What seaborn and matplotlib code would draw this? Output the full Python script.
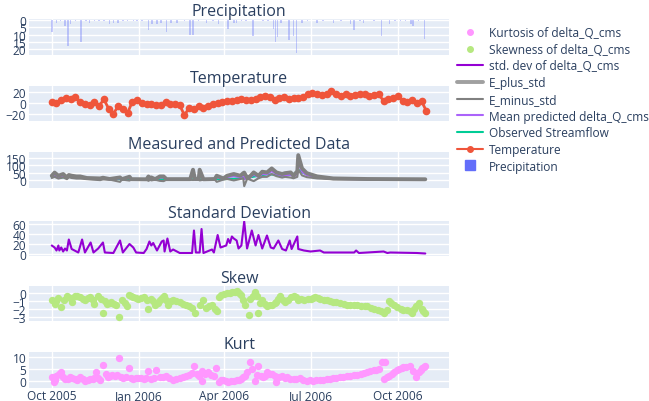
import matplotlib
matplotlib.use("Agg")
import matplotlib.pyplot as plt
import matplotlib.dates as mdates
from matplotlib.lines import Line2D
import pandas as pd
import seaborn as sns

START = pd.Timestamp("2005-10-01")

# precipitation (day offset from START, mm)
precip_day = [0, 5, 9, 14, 17, 20, 25, 31, 36, 40, 45, 50, 55, 61, 65, 70, 75, 80,
              86, 90, 95, 102, 106, 111, 115, 121, 126, 132, 140, 146, 149, 155,
              163, 170, 176, 186, 192, 195, 200, 205, 212, 223, 228, 234, 236, 238,
              242, 250, 255, 258, 264, 270, 280, 286, 297, 305, 315, 319, 325, 329,
              340, 348, 356, 362, 368, 373, 379, 381, 387, 393]
precip_val = [8, 2, 1, 4, 18, 3, 1, 15, 1, 2, 1, 1, 1, 3, 2, 2, 1, 1,
              1, 1, 1, 7, 3, 3, 2, 8, 2, 2, 1, 10, 10, 1,
              2, 1, 3, 6, 2, 2, 1, 1, 11, 1, 1, 6, 15, 12,
              2, 14, 11, 23, 2, 1, 2, 1, 2, 1, 3, 7, 1, 2,
              1, 11, 3, 1, 1, 1, 3, 4, 1, 13]

# temperature, every 5 days
temperature = [3, 1, 5, 9, 7, 11, 3, -1, -3, 2, -5, 7, -10, -19, -6, -10, -18, 3,
               5, 0, -1, -1, -4, -3, 3, -2, -1, -4, -22, -8, -11, -5, -9, -6, -2,
               0, 2, 4, 4, 5, 7, 5, 6, 8, 11, 14, 12, 5, 9, 11, 8, 10, 9, 11, 16,
               18, 17, 15, 17, 22, 16, 13, 17, 14, 15, 16, 17, 13, 15, 16, 4, 7,
               10, 13, 4, 2, 6, 1, 4, -14]

# observed streamflow
obs_day = [0, 5, 10, 15, 20, 25, 30, 40, 50, 60, 80, 100, 120, 150, 170, 185, 195,
           205, 212, 220, 228, 235, 242, 250, 255, 258, 261, 265, 270, 278, 290,
           305, 330, 360, 394]
obs_val = [18, 25, 15, 20, 22, 16, 14, 10, 7, 5, 3, 3, 3, 3, 3, 5, 8,
           12, 20, 30, 38, 35, 28, 32, 38, 55, 66, 48, 35, 24, 13,
           7, 4, 3, 2]

# ensemble statistics, shared days
ens_day = [0, 3, 7, 12, 16, 18, 21, 26, 30, 37, 51, 54, 61, 72, 74, 82, 84, 100,
           102, 104, 105, 109, 114, 118, 121, 146, 149, 151, 155, 156, 160, 172,
           174, 181, 185, 192, 199, 202, 203, 206, 208, 213, 218, 222, 227, 232,
           237, 243, 246, 252, 255, 259, 260, 264, 269, 280, 297, 333, 394]
mean_pred = [20, 35, 18, 28, 10, 25, 20, 15, 15, 8, 5, 8, 3, 10, 2, 14, 2, 1,
             15, 2, 10, 2, 15, 15, 2, 2, 45, 2, 2, 45, 1, 3,
             18, 5, 18, 25, 18, 30, 5, 8, 10, 35, 20, 40, 38, 60,
             38, 28, 32, 35, 20, 40, 120, 55, 32, 16, 6, 3, 2]
e_plus = [28, 50, 28, 40, 16, 33, 28, 23, 23, 12, 9, 14, 5, 16, 4, 21, 4, 3,
          23, 4, 16, 4, 23, 23, 4, 4, 70, 5, 5, 70, 3, 5,
          28, 9, 28, 40, 28, 46, 50, 14, 16, 51, 28, 56, 51, 79,
          51, 40, 46, 51, 28, 60, 172, 79, 46, 23, 9, 5, 3]
e_minus = [12, 20, 8, 16, 4, 17, 12, 8, 8, 4, -3, 2, 1, -15, 1, -6, 1, 0,
           -8, 0, -5, 0, -8, -10, 0, 0, -2, 0, 0, -5, 0, 1,
           -15, 1, 5, -5, 5, 10, -45, 5, 3, -10, 10, 20, 20, 40,
           25, 15, 20, 15, 10, 20, 70, 30, 18, 9, 3, 1, 1]

# std. dev of delta_Q_cms
std_day = [0, 3, 5, 7, 8, 10, 12, 14, 16, 18, 21, 24, 28, 32, 35, 41, 44, 49, 54,
           56, 65, 72, 75, 82, 86, 89, 97, 100, 103, 105, 107, 111, 116, 118, 119,
           122, 125, 128, 135, 148, 150, 152, 156, 158, 160, 169, 171, 175, 178,
           184, 186, 188, 190, 192, 195, 197, 200, 203, 206, 211, 215, 218, 222,
           227, 231, 234, 239, 243, 247, 251, 253, 259, 260, 266, 273, 283, 287,
           297, 319, 321, 324, 350, 354, 357, 385, 394]
std_val = [17, 13, 7, 17, 7, 13, 5, 11, 7, 29, 10, 7, 3, 29, 3, 23, 3, 11, 23,
           3, 2, 27, 3, 20, 13, 3, 2, 10, 25, 17, 22, 7, 25, 27, 5,
           31, 5, 9, 2, 2, 47, 3, 3, 50, 2, 9, 3, 38, 13,
           17, 30, 22, 35, 31, 27, 11, 17, 65, 11, 47, 17, 38, 11,
           37, 13, 11, 27, 10, 7, 27, 10, 35, 10, 7, 5, 7, 3,
           3, 3, 7, 2, 5, 2, 3, 2, 1]

# skewness of delta_Q_cms
skew_day = [0, 3, 5, 7, 10, 13, 16, 19, 21, 24, 27, 30, 33, 35, 38, 40, 43, 45, 49,
            52, 54, 56, 58, 61, 63, 66, 68, 71, 74, 77, 79, 82, 84, 86, 89, 91, 94,
            97, 100, 102, 105, 107, 109, 112, 114, 116, 118, 120, 123, 126, 128,
            131, 135, 138, 142, 145, 148, 151, 156, 160, 163, 166, 169, 172, 174,
            176, 179, 182, 185, 188, 190, 193, 195, 198, 200, 202, 204, 208, 209,
            212, 214, 216, 218, 220, 222, 225, 227, 230, 232, 235, 237, 239, 241,
            244, 246, 249, 252, 255, 258, 260, 263, 266, 270, 273, 276, 278, 281,
            283, 287, 290, 294, 297, 300, 304, 308, 311, 315, 319, 322, 326, 330,
            333, 337, 340, 344, 347, 350, 354, 356, 358, 361, 364, 368, 371, 375,
            378, 380, 382, 384, 387, 390, 392, 394]
skew_val = [-0.9, -1.3, -1.0, -0.6, -1.7, -0.8, -0.3, -0.6, -1.1, -0.3, -0.4, -0.5,
            -0.7, -0.8, -0.6, -0.5, -0.9, -1.3, -0.3, -0.7, -2.4, -1.0, -1.3, -1.2,
            -1.1, -1.3, -1.5, -2.9, -0.9, -1.2, -1.6, -0.2, -0.3, -0.5, -0.6, -0.7,
            -0.6, -0.5, -0.8, -2.0, -0.7, -1.0, -1.5, -1.2, -0.9, -0.6, -0.4, -0.8,
            -1.5, -1.0, -0.8, -1.0, -1.1, -1.3, -1.4, -1.6, -1.8, -2.4, -1.5, -0.8,
            -1.8, -1.6, -1.4, -1.9, -2.2, -0.5, -0.2, -0.1, 0.0, 0.0, 0.1, 0.2, 0.3,
            0.0, -0.2, -0.8, -1.5, -2.7, -0.7, -0.3, 0.2, -0.3, -2.5, -1.2, -0.9,
            -1.3, -1.6, -1.5, -1.4, -1.2, -1.1, -0.7, -0.3, -0.8, -1.1, -0.8, -0.5,
            -0.3, -0.5, -0.8, -0.7, -0.8, -0.7, -0.7, -0.6, -0.5, -0.6, -0.7, -0.8,
            -0.9, -1.0, -1.1, -1.1, -1.2, -1.3, -1.5, -1.4, -1.4, -1.5, -1.6, -1.6,
            -1.6, -1.8, -2.0, -2.1, -2.2, -2.5, -2.1, -1.0, -1.2, -1.4, -1.7, -2.0,
            -2.1, -2.1, -2.2, -2.4, -2.0, -1.6, -1.2, -2.0, -2.2, -2.4]

# kurtosis of delta_Q_cms
kurt_day = [0, 2, 3, 5, 8, 10, 12, 14, 17, 19, 21, 24, 27, 30, 33, 35, 38, 40, 43,
            45, 47, 49, 51, 54, 57, 59, 61, 64, 67, 69, 71, 73, 75, 78, 82, 84, 86,
            89, 91, 94, 97, 99, 102, 105, 108, 110, 114, 117, 121, 124, 128, 131,
            135, 138, 142, 145, 148, 150, 153, 155, 158, 159, 162, 165, 168, 171,
            173, 176, 179, 181, 184, 186, 189, 192, 195, 197, 200, 202, 204, 206,
            209, 211, 214, 216, 218, 221, 223, 225, 227, 230, 232, 235, 237, 240,
            243, 246, 248, 251, 255, 258, 262, 265, 269, 272, 276, 279, 283, 286,
            290, 293, 297, 300, 304, 307, 311, 315, 319, 322, 326, 329, 333, 336,
            340, 342, 345, 348, 350, 352, 354, 356, 359, 361, 364, 366, 369, 371,
            374, 378, 381, 384, 387, 389, 391, 393, 394]
kurt_val = [1.4, -0.7, 0.5, 2.1, 2.9, 3.6, 1.5, 0.7, 0.8, 1.4, 1.0, 0.7, 0.5, 1.4,
            0.8, 0.0, 0.3, 0.7, 0.9, 1.0, 3.6, 1.2, 0.4, 6.7, 3.1, 1.5, 1.9, 2.3,
            2.1, 2.6, 9.9, 1.5, 1.0, 1.8, 5.3, 1.2, 0.7, 1.3, 1.0, 1.0, 0.7, 1.2,
            4.3, 0.7, 1.1, 4.7, 1.4, 1.6, 2.1, 1.0, 0.4, 0.8, 1.0, 1.4, 2.1, 2.5,
            3.3, 6.4, 3.0, 2.1, 0.0, 4.3, 2.8, 3.6, 2.5, 2.1, 5.3, -0.4, 0.2, 0.4,
            -0.3, -0.4, 0.0, 0.0, 0.3, 0.4, 0.8, 1.4, 2.0, 3.9, 8.1, 5.0, 0.0, 2.5,
            6.4, 2.2, 1.4, 1.9, 3.9, 2.7, 2.9, 2.2, -0.4, 1.5, 2.1, 1.0, 1.4, 0.8,
            0.7, 0.6, 1.0, 0.5, 0.0, 0.2, 0.0, 0.3, 0.4, 0.5, 0.7, 0.8, 1.0, 1.2,
            1.4, 1.7, 2.1, 2.2, 2.4, 2.6, 2.9, 3.3, 3.9, 4.2, 4.7, 4.8, 5.0, 8.1,
            0.7, 8.1, 1.5, 2.1, 3.0, 3.9, 4.5, 5.0, 5.3, 5.7, 5.8, 6.1, 4.0, 1.4,
            3.9, 4.5, 5.3, 5.8, 6.1]


def to_frame(days, values):
    return pd.DataFrame({"date": START + pd.to_timedelta(days, unit="D"),
                         "value": values})


sns.set_style("darkgrid", {"axes.facecolor": "#E5ECF6", "grid.color": "white",
                           "axes.edgecolor": "#E5ECF6"})
plt.rcParams["font.family"] = ["Open Sans", "DejaVu Sans"]
TXT = "#2a3f5f"

fig = plt.figure(figsize=(6.49, 4.02), dpi=100)
W, H = 649.0, 402.0
left_px, right_px = 29, 449
rows = [(20, 56), (87, 122), (153, 189), (222, 257), (287, 322), (353, 389)]
titles = ["Precipitation", "Temperature", "Measured and Predicted Data",
          "Standard Deviation", "Skew", "Kurt"]
axs = []
for i, (t, b) in enumerate(rows):
    ax = fig.add_axes([left_px / W, 1 - b / H, (right_px - left_px) / W, (b - t) / H],
                      sharex=axs[0] if axs else None)
    ax.set_title(titles[i], fontsize=11.5, color=TXT, pad=3)
    axs.append(ax)

# precipitation bars
pr = to_frame(precip_day, precip_val)
axs[0].bar(pr["date"], pr["value"], width=1.6, color="#636EFA", alpha=0.35, lw=0)
axs[0].set_ylim(24.1, -0.7)
axs[0].set_yticks([0, 5, 10, 15, 20])

# temperature
tp = pd.DataFrame({"date": pd.date_range(START, periods=len(temperature), freq="5D"),
                   "value": temperature})
sns.lineplot(data=tp, x="date", y="value", color="#EF553B", lw=2, marker="o",
             markersize=5.5, markeredgewidth=0, estimator=None, ax=axs[1])
axs[1].set_ylim(-32.7, 31.5)
axs[1].set_yticks([-20, 0, 20])

# measured and predicted
sns.lineplot(data=to_frame(obs_day, obs_val), x="date", y="value", color="#00CC96",
             lw=1.5, estimator=None, ax=axs[2])
sns.lineplot(data=to_frame(ens_day, mean_pred), x="date", y="value", color="#AB63FA",
             lw=1.5, estimator=None, ax=axs[2])
sns.lineplot(data=to_frame(ens_day, e_minus), x="date", y="value", color="grey",
             lw=1.5, estimator=None, ax=axs[2])
sns.lineplot(data=to_frame(ens_day, e_plus), x="date", y="value", color="grey",
             lw=2.8, estimator=None, ax=axs[2])
axs[2].set_ylim(-58, 194)
axs[2].set_yticks([0, 50, 100, 150])

# std dev
sns.lineplot(data=to_frame(std_day, std_val), x="date", y="value", color="darkviolet",
             lw=1.5, estimator=None, ax=axs[3])
axs[3].set_ylim(-4, 66)
axs[3].set_yticks([0, 20, 40, 60])

# skew / kurt
sns.scatterplot(data=to_frame(skew_day, skew_val), x="date", y="value",
                color="#B6E880", s=28, linewidth=0, ax=axs[4])
axs[4].set_ylim(-3.45, 0.9)
axs[4].set_yticks([-3, -2, -1, 0])
sns.scatterplot(data=to_frame(kurt_day, kurt_val), x="date", y="value",
                color="#FF97FF", s=28, linewidth=0, ax=axs[5])
axs[5].set_ylim(-3.1, 12.3)
axs[5].set_yticks([0, 5, 10])

for i, ax in enumerate(axs):
    ax.set_xlabel("")
    ax.set_ylabel("")
    ax.grid(True, color="white", lw=1)
    ax.tick_params(length=0, pad=2, labelsize=8.6, labelcolor=TXT)
    for s in ax.spines.values():
        s.set_visible(False)
    if i < 5:
        ax.tick_params(labelbottom=False)

axs[5].tick_params(axis="x", pad=1)
axs[5].set_xlim(pd.Timestamp("2005-09-07"), pd.Timestamp("2006-11-24"))
axs[5].xaxis.set_major_locator(mdates.MonthLocator(bymonth=[1, 4, 7, 10]))
axs[5].xaxis.set_major_formatter(mdates.DateFormatter("%b %Y"))

handles = [
    Line2D([], [], ls="none", marker="o", color="#FF97FF", markersize=4),
    Line2D([], [], ls="none", marker="o", color="#B6E880", markersize=4),
    Line2D([], [], color="darkviolet", lw=1.5),
    Line2D([], [], color="grey", lw=2.8, alpha=0.75),
    Line2D([], [], color="grey", lw=1.5),
    Line2D([], [], color="#AB63FA", lw=1.5),
    Line2D([], [], color="#00CC96", lw=1.5),
    Line2D([], [], color="#EF553B", lw=1.5, marker="o", markersize=4),
    Line2D([], [], ls="none", marker="s", color="#636EFA", markersize=7),
]
labels = ["Kurtosis of delta_Q_cms", "Skewness of delta_Q_cms",
          "std. dev of delta_Q_cms", "E_plus_std", "E_minus_std",
          "Mean predicted delta_Q_cms", "Observed Streamflow", "Temperature",
          "Precipitation"]
leg = fig.legend(handles, labels, loc="upper left", bbox_to_anchor=(457 / W, 1 - 27 / H),
                 frameon=False, fontsize=8.6, handlelength=2.2, handletextpad=0.45,
                 labelspacing=0.31, borderaxespad=0, borderpad=0)
for t in leg.get_texts():
    t.set_color(TXT)

fig.savefig("out.png", dpi=100)
